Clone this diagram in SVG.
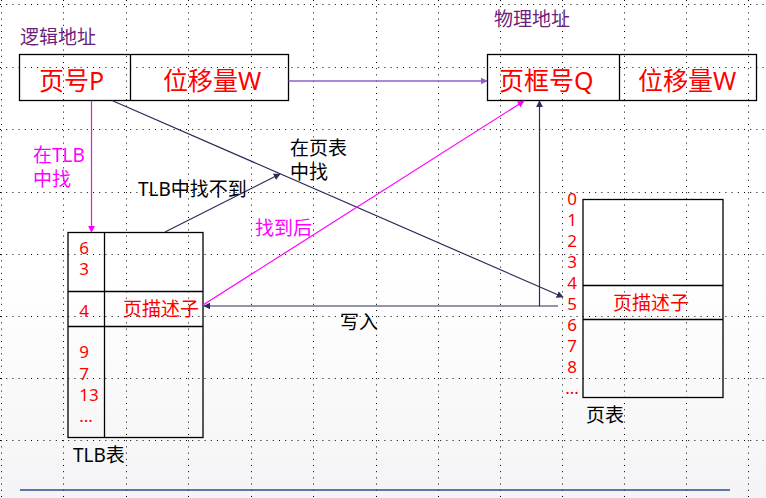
<svg xmlns="http://www.w3.org/2000/svg" width="766" height="498" viewBox="0 0 766 498">
<defs>
<linearGradient id="bg" x1="0" y1="0" x2="0" y2="1">
<stop offset="0" stop-color="#ffffff"/>
<stop offset="0.55" stop-color="#ffffff"/>
<stop offset="1" stop-color="#f4f4f6"/>
</linearGradient>
<marker id="aDark" viewBox="0 0 10 10" refX="9" refY="5" markerWidth="7" markerHeight="7" orient="auto" markerUnits="userSpaceOnUse">
<path d="M0,0 L10,5 L0,10 z" fill="#2b2d5a"/>
</marker>
<marker id="aMag" viewBox="0 0 10 10" refX="9" refY="5" markerWidth="7" markerHeight="7" orient="auto" markerUnits="userSpaceOnUse">
<path d="M0,0 L10,5 L0,10 z" fill="#ff00ff"/>
</marker>
<marker id="aPur" viewBox="0 0 10 10" refX="9" refY="5" markerWidth="7" markerHeight="7" orient="auto" markerUnits="userSpaceOnUse">
<path d="M0,0 L10,5 L0,10 z" fill="#9060c8"/>
</marker>
<style>
.grid line{stroke:#000;stroke-width:1;stroke-dasharray:1 5.2}
.box{fill:none;stroke:#000;stroke-width:1.3}
.t{font-family:"Noto Sans","Liberation Sans","Noto Sans CJK SC",sans-serif}
.big{font-size:25px;fill:#ff0000}
.lbl{font-size:19px}
.num{font-size:17px;fill:#ff0000;text-anchor:middle}
.red{fill:#ff0000}
.mag{fill:#ff00ff}
.pur{fill:#6b1f7b}
.blk{fill:#000}
.dark{stroke:#2b2d5a;stroke-width:1.2;fill:none}
</style>
</defs>
<rect x="0" y="0" width="766" height="498" fill="url(#bg)"/>
<g class="grid">
<line x1="0" y1="4.5" x2="766" y2="4.5"/>
<line x1="0" y1="67.5" x2="766" y2="67.5"/>
<line x1="0" y1="129.5" x2="766" y2="129.5"/>
<line x1="0" y1="192.5" x2="766" y2="192.5"/>
<line x1="0" y1="254.5" x2="766" y2="254.5"/>
<line x1="0" y1="316.5" x2="766" y2="316.5"/>
<line x1="0" y1="378.5" x2="766" y2="378.5"/>
<line x1="0" y1="440.5" x2="766" y2="440.5"/>
<line x1="1.5" y1="0" x2="1.5" y2="498"/>
<line x1="63.5" y1="0" x2="63.5" y2="498"/>
<line x1="126.5" y1="0" x2="126.5" y2="498"/>
<line x1="188.5" y1="0" x2="188.5" y2="498"/>
<line x1="251.5" y1="0" x2="251.5" y2="498"/>
<line x1="313.5" y1="0" x2="313.5" y2="498"/>
<line x1="376.5" y1="0" x2="376.5" y2="498"/>
<line x1="438.5" y1="0" x2="438.5" y2="498"/>
<line x1="500.5" y1="0" x2="500.5" y2="498"/>
<line x1="562.5" y1="0" x2="562.5" y2="498"/>
<line x1="624.5" y1="0" x2="624.5" y2="498"/>
<line x1="686.5" y1="0" x2="686.5" y2="498"/>
<line x1="748.5" y1="0" x2="748.5" y2="498"/>
</g>
<line x1="20" y1="490" x2="730" y2="490" stroke="#2e4a8c" stroke-width="1.5"/>

<g id="logical-address">
<text class="t lbl pur" x="20" y="44">逻辑地址</text>
<rect class="box" x="19.5" y="54.5" width="269" height="46" fill="#fff"/>
<line x1="130.5" y1="54.5" x2="130.5" y2="100.5" stroke="#000" stroke-width="1.3"/>
<text class="t big" x="39" y="90">页号P</text>
<text class="t big" x="163" y="90">位移量W</text>
</g>

<g id="physical-address">
<text class="t lbl pur" x="494" y="26">物理地址</text>
<rect class="box" x="487.5" y="54.5" width="269" height="46" fill="#fff"/>
<line x1="619.5" y1="54.5" x2="619.5" y2="100.5" stroke="#000" stroke-width="1.3"/>
<text class="t big" x="499" y="90">页框号Q</text>
<text class="t big" x="638" y="90">位移量W</text>
</g>

<g id="tlb">
<rect class="box" x="68" y="232.5" width="135" height="205" fill="#fff"/>
<line x1="104.5" y1="232.5" x2="104.5" y2="437.5" stroke="#000" stroke-width="1.3"/>
<line x1="68" y1="291.5" x2="203" y2="291.5" stroke="#000" stroke-width="1.3"/>
<line x1="68" y1="326.5" x2="203" y2="326.5" stroke="#000" stroke-width="1.3"/>
<text class="t num" x="84" y="254">6</text>
<text class="t num" x="84" y="275">3</text>
<text class="t num" x="84" y="317">4</text>
<text class="t num" x="84" y="358">9</text>
<text class="t num" x="84" y="380">7</text>
<text class="t num" x="89" y="401">13</text>
<text class="t num" x="86" y="422">...</text>
<text class="t lbl red" x="123" y="316">页描述子</text>
<text class="t lbl blk" x="73" y="462">TLB表</text>
</g>

<g id="page-table">
<rect class="box" x="583" y="199.5" width="140" height="198" fill="#fff"/>
<line x1="583" y1="285.5" x2="723" y2="285.5" stroke="#000" stroke-width="1.3"/>
<line x1="583" y1="319.5" x2="723" y2="319.5" stroke="#000" stroke-width="1.3"/>
<text class="t lbl red" x="613" y="310">页描述子</text>
<text class="t num" x="572" y="205">0</text>
<text class="t num" x="572" y="226">1</text>
<text class="t num" x="572" y="247">2</text>
<text class="t num" x="572" y="268">3</text>
<text class="t num" x="572" y="289">4</text>
<text class="t num" x="572" y="310">5</text>
<text class="t num" x="572" y="331">6</text>
<text class="t num" x="572" y="352">7</text>
<text class="t num" x="572" y="373">8</text>
<text class="t num" x="572" y="394">...</text>
<text class="t lbl blk" x="586" y="422">页表</text>
</g>

<g id="connectors">
<line x1="288.5" y1="81" x2="487" y2="81" stroke="#9060c8" stroke-width="1.3" marker-end="url(#aPur)"/>
<line x1="91.5" y1="100.5" x2="91.5" y2="232" stroke="#ff00ff" stroke-width="1.2" marker-end="url(#aMag)"/>
<line x1="165" y1="232" x2="280" y2="174" class="dark" marker-end="url(#aDark)"/>
<line x1="112" y1="100.5" x2="563" y2="297" class="dark" marker-end="url(#aDark)"/>
<polyline points="558,306 539.5,306 539.5,101" class="dark" marker-end="url(#aDark)"/>
<line x1="539.5" y1="306" x2="204" y2="306" class="dark" marker-end="url(#aDark)"/>
<line x1="203" y1="305" x2="524" y2="101" stroke="#ff00ff" stroke-width="1.2" marker-end="url(#aMag)"/>
<text class="t lbl mag" x="33" y="162">在TLB</text>
<text class="t lbl mag" x="33" y="186">中找</text>
<text class="t lbl blk" x="138" y="196">TLB中找不到</text>
<text class="t lbl blk" x="290" y="155">在页表</text>
<text class="t lbl blk" x="290" y="179">中找</text>
<text class="t lbl mag" x="255" y="235">找到后</text>
<text class="t lbl blk" x="340" y="329">写入</text>
</g>
</svg>
